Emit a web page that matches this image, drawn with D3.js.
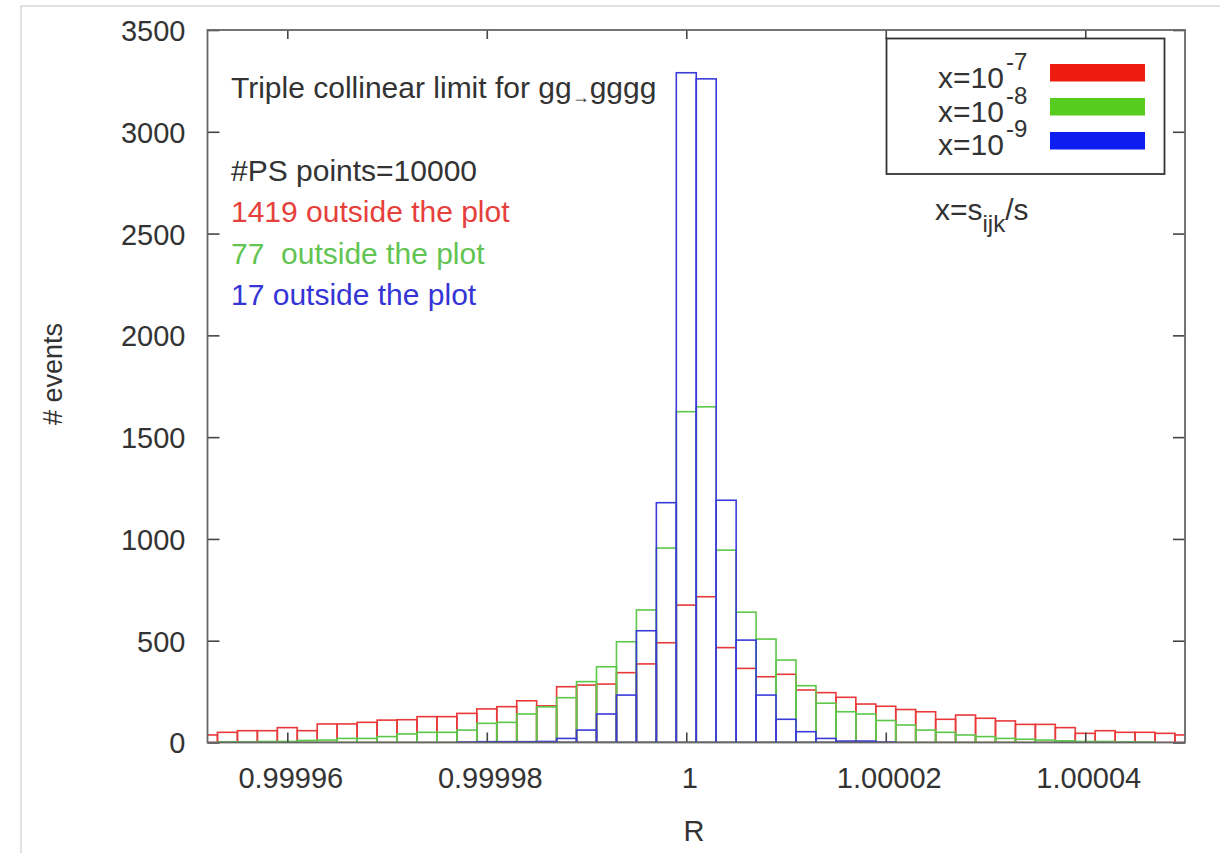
<!DOCTYPE html>
<html>
<head>
<meta charset="utf-8">
<script src="https://cdn.jsdelivr.net/npm/d3@7"></script>
<style>
  body { margin: 0; background: #fff; }
  svg { display: block; font-family: "Liberation Sans", Arial, Helvetica, sans-serif; }
</style>
</head>
<body>
<svg id="chart" width="1220" height="853"></svg>
<script>
// histogram bins (centres), width 2e-6
const binCenters = [
  0.999952, 0.999954, 0.999956, 0.999958, 0.999960, 0.999962, 0.999964, 0.999966, 0.999968, 0.999970,
  0.999972, 0.999974, 0.999976, 0.999978, 0.999980, 0.999982, 0.999984, 0.999986, 0.999988, 0.999990,
  0.999992, 0.999994, 0.999996, 0.999998, 1.000000, 1.000002, 1.000004, 1.000006, 1.000008, 1.000010,
  1.000012, 1.000014, 1.000016, 1.000018, 1.000020, 1.000022, 1.000024, 1.000026, 1.000028, 1.000030,
  1.000032, 1.000034, 1.000036, 1.000038, 1.000040, 1.000042, 1.000044, 1.000046, 1.000048, 1.000050
];
const binWidth = 0.000002;

// x = 1e-7
const redCounts = [
  37, 50, 58, 58, 73, 58, 91, 91, 99, 110,
  112, 127, 127, 143, 165, 176, 205, 180, 274, 282,
  287, 343, 386, 490, 675, 716, 466, 364, 323, 335,
  258, 245, 222, 189, 178, 162, 151, 114, 135, 119,
  106, 89, 89, 73, 45, 58, 50, 50, 45, 37
];
// x = 1e-8
const greenCounts = [
  0, 3, 3, 5, 5, 10, 12, 20, 20, 29,
  42, 50, 50, 61, 94, 99, 140, 175, 220, 299,
  372, 495, 651, 955, 1625, 1649, 945, 640, 508, 405,
  279, 193, 151, 140, 108, 86, 61, 50, 37, 29,
  20, 16, 12, 8, 5, 5, 3, 2, 0, 0
];
// x = 1e-9
const blueCounts = [
  0, 0, 0, 0, 0, 0, 0, 0, 0, 0,
  0, 0, 0, 2, 4, 4, 4, 5, 20, 61,
  140, 233, 549, 1178, 3290, 3260, 1190, 503, 233, 114,
  53, 20, 7, 7, 2, 0, 0, 0, 0, 0,
  0, 0, 0, 0, 0, 0, 0, 0, 0, 0
];

const xTicks = [0.99996, 0.99998, 1, 1.00002, 1.00004];
const xTickLabels = ['0.99996', '0.99998', '1', '1.00002', '1.00004'];
const yTicks = [0, 500, 1000, 1500, 2000, 2500, 3000, 3500];

const legendExponents = ['-7', '-8', '-9'];
const outsideNotes = ['1419 outside the plot', '77  outside the plot', '17 outside the plot'];

const lineColors = ['#e8393a', '#5cc84a', '#3b3bd9'];
const swatchColors = ['#ee1c10', '#55cc1e', '#0f1ef0'];
const textColors = ['#e5403c', '#62c452', '#3535d5'];

const series = [redCounts, greenCounts, blueCounts];

const margin = { left: 207.5, right: 1185, top: 30, bottom: 742.5 };

const svg = d3.select('#chart');

// faint page border seen in the screenshot
svg.append('path')
  .attr('d', 'M21,853 L21,6 L1220,6')
  .attr('fill', 'none')
  .attr('stroke', '#d8d8d8')
  .attr('stroke-width', 1.5);

const x = d3.scaleLinear().domain([0.999952, 1.00005]).range([margin.left, margin.right]);
const y = d3.scaleLinear().domain([0, 3500]).range([margin.bottom, margin.top]);

svg.append('clipPath').attr('id', 'plotClip')
  .append('rect')
  .attr('x', margin.left).attr('y', margin.top)
  .attr('width', margin.right - margin.left)
  .attr('height', margin.bottom - margin.top);

const plot = svg.append('g').attr('clip-path', 'url(#plotClip)');

series.forEach((counts, s) => {
  plot.append('g')
    .selectAll('rect')
    .data(binCenters.map((c, i) => ({ c, v: counts[i] })).filter(d => d.v > 0))
    .enter().append('rect')
    .attr('x', d => x(d.c - binWidth / 2))
    .attr('width', d => x(d.c + binWidth / 2) - x(d.c - binWidth / 2))
    .attr('y', d => y(d.v))
    .attr('height', d => y(0) - y(d.v))
    .attr('fill', 'none')
    .attr('stroke', lineColors[s])
    .attr('stroke-width', 1.6);
});

// axes with inward ticks on all four sides
const axisColor = '#666';

const bottomAxis = svg.append('g')
  .attr('transform', `translate(0,${margin.bottom})`)
  .call(d3.axisBottom(x).tickValues(xTicks).tickSizeInner(-10).tickSizeOuter(0)
    .tickFormat((d, i) => xTickLabels[i]));
bottomAxis.selectAll('text')
  .attr('y', 45).attr('dy', 0).attr('dx', 3)
  .attr('font-size', 29).attr('fill', '#333');

svg.append('g')
  .attr('transform', `translate(0,${margin.top})`)
  .call(d3.axisTop(x).tickValues(xTicks).tickSizeInner(-9).tickSizeOuter(0).tickFormat(''));

const leftAxis = svg.append('g')
  .attr('transform', `translate(${margin.left},0)`)
  .call(d3.axisLeft(y).tickValues(yTicks).tickSizeInner(-12).tickSizeOuter(0).tickFormat(d3.format('d')));
leftAxis.selectAll('text')
  .attr('x', -22).attr('dy', '0.36em')
  .attr('font-size', 29).attr('fill', '#333');

svg.append('g')
  .attr('transform', `translate(${margin.right},0)`)
  .call(d3.axisRight(y).tickValues(yTicks).tickSizeInner(-12).tickSizeOuter(0).tickFormat(''));

svg.selectAll('.domain').remove();
svg.selectAll('.tick line').attr('stroke', '#444').attr('stroke-width', 1.6);
svg.selectAll('.tick text').attr('font-family', '"Liberation Sans", Arial, sans-serif');

svg.append('rect')
  .attr('x', margin.left).attr('y', margin.top)
  .attr('width', margin.right - margin.left)
  .attr('height', margin.bottom - margin.top)
  .attr('fill', 'none')
  .attr('stroke', axisColor)
  .attr('stroke-width', 1.8);

// axis titles
svg.append('text')
  .attr('transform', 'translate(62,374) rotate(-90)')
  .attr('text-anchor', 'middle')
  .attr('font-size', 27)
  .attr('fill', '#333')
  .text('# events');

svg.append('text')
  .attr('x', 694).attr('y', 841)
  .attr('text-anchor', 'middle')
  .attr('font-size', 29)
  .attr('fill', '#333')
  .text('R');

// annotations
const title = svg.append('text')
  .attr('x', 231).attr('y', 98)
  .attr('font-size', 30)
  .attr('fill', '#333');
title.append('tspan').text('Triple collinear limit for gg');
title.append('tspan').attr('font-size', 18).attr('dy', 5).text('\u2192');
title.append('tspan').attr('dy', -5).text('gggg');

svg.append('text')
  .attr('x', 231).attr('y', 181)
  .attr('font-size', 30)
  .attr('fill', '#333')
  .text('#PS points=10000');

svg.selectAll('.note')
  .data(outsideNotes)
  .enter().append('text')
  .attr('class', 'note')
  .attr('x', 231)
  .attr('y', (d, i) => 222 + i * 41.5)
  .attr('font-size', 30)
  .attr('fill', (d, i) => textColors[i])
  .style('white-space', 'pre')
  .text(d => d);

// legend
svg.append('rect')
  .attr('x', 886.5).attr('y', 38.5)
  .attr('width', 278).attr('height', 135.5)
  .attr('fill', '#fff')
  .attr('stroke', '#333')
  .attr('stroke-width', 1.8);

legendExponents.forEach((e, i) => {
  const t = svg.append('text')
    .attr('x', 938).attr('y', 88 + i * 33.5)
    .attr('font-size', 30)
    .attr('fill', '#333');
  t.append('tspan').text('x=10');
  t.append('tspan').attr('font-size', 24).attr('dy', -18).attr('dx', 2).text(e);

  svg.append('rect')
    .attr('x', 1050).attr('y', 64 + i * 34)
    .attr('width', 95).attr('height', 17.5)
    .attr('fill', swatchColors[i]);
});

const xDef = svg.append('text')
  .attr('x', 935).attr('y', 220)
  .attr('font-size', 30)
  .attr('fill', '#333');
xDef.append('tspan').text('x=s');
xDef.append('tspan').attr('font-size', 24).attr('dy', 12).text('ijk');
xDef.append('tspan').attr('dy', -12).text('/s');
</script>
</body>
</html>
